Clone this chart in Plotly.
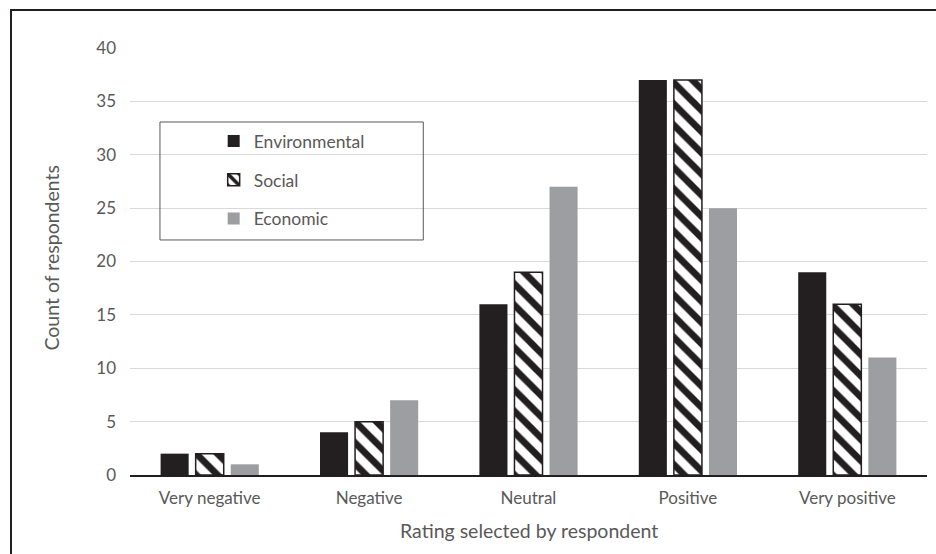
import plotly.graph_objects as go

categories = ["Very negative", "Negative", "Neutral", "Positive", "Very positive"]
environmental = [2, 4, 16, 37, 19]
social = [2, 5, 19, 37, 16]
economic = [1, 7, 27, 25, 11]
y_ticks = [0, 5, 10, 15, 20, 25, 30, 35, 40]

FONT = "Lato"
GREY_TXT = "#595959"

fig = go.Figure()
fig.add_trace(go.Bar(
    name="Environmental", x=categories, y=environmental, legendgroup="a",
    marker=dict(color="#231f20", line=dict(width=0)),
))
fig.add_trace(go.Bar(
    name="Social", x=categories, y=social, legendgroup="b",
    marker=dict(color="white", line=dict(color="#231f20", width=1.5),
                pattern=dict(shape="\\", fgcolor="#231f20", bgcolor="white",
                             size=15, solidity=0.45, fillmode="replace")),
))
fig.add_trace(go.Bar(
    name="Economic", x=categories, y=economic, legendgroup="c",
    marker=dict(color="#9d9ea2", line=dict(width=0)),
))

fig.update_layout(
    width=936, height=554,
    margin=dict(l=130, r=9, t=48, b=79),
    paper_bgcolor="white", plot_bgcolor="white",
    font=dict(family=FONT, size=17, color=GREY_TXT),
    barmode="group", bargap=0.34, bargroupgap=0.2,
    showlegend=True,
    legend=dict(x=0.105, y=0.824, xanchor="left", yanchor="top",
                bgcolor="rgba(0,0,0,0)", borderwidth=0,
                tracegroupgap=13, font=dict(size=17.5, color=GREY_TXT)),
    xaxis=dict(showgrid=False, showline=True, linecolor="#231f20", linewidth=1.5,
               ticks="", ticklabelstandoff=7, tickfont=dict(size=17, color=GREY_TXT)),
    yaxis=dict(range=[0, 40], tickvals=y_ticks, showgrid=True, gridcolor="#d9d9d9",
               gridwidth=1, zeroline=False, showline=False, ticks="",
               ticklabelstandoff=13, tickfont=dict(size=17, color=GREY_TXT)),
    shapes=[
        dict(type="rect", xref="paper", yref="paper", x0=0.0376, x1=0.368,
             y0=0.5504, y1=0.8267, line=dict(color="#595959", width=1),
             fillcolor="rgba(0,0,0,0)"),
        dict(type="rect", xref="paper", yref="paper", x0=-0.1493, x1=1.2,
             y0=-0.4, y1=1.089, line=dict(color="#231f20", width=2),
             fillcolor="rgba(0,0,0,0)", layer="above"),
    ],
    annotations=[
        dict(text="Rating selected by respondent", xref="paper", yref="paper",
             x=0.5, y=-(530 - 475) / 427, xanchor="center", yanchor="middle",
             showarrow=False, font=dict(size=19.5, color=GREY_TXT)),
        dict(text="Count of respondents", xref="paper", yref="paper",
             x=(52 - 130) / 797, y=0.5093, xanchor="center", yanchor="middle",
             textangle=-90, showarrow=False, font=dict(size=19.5, color=GREY_TXT)),
    ],
)

fig.write_html("out.html", config={"displayModeBar": False},
               post_script="document.body.style.margin='0';")
